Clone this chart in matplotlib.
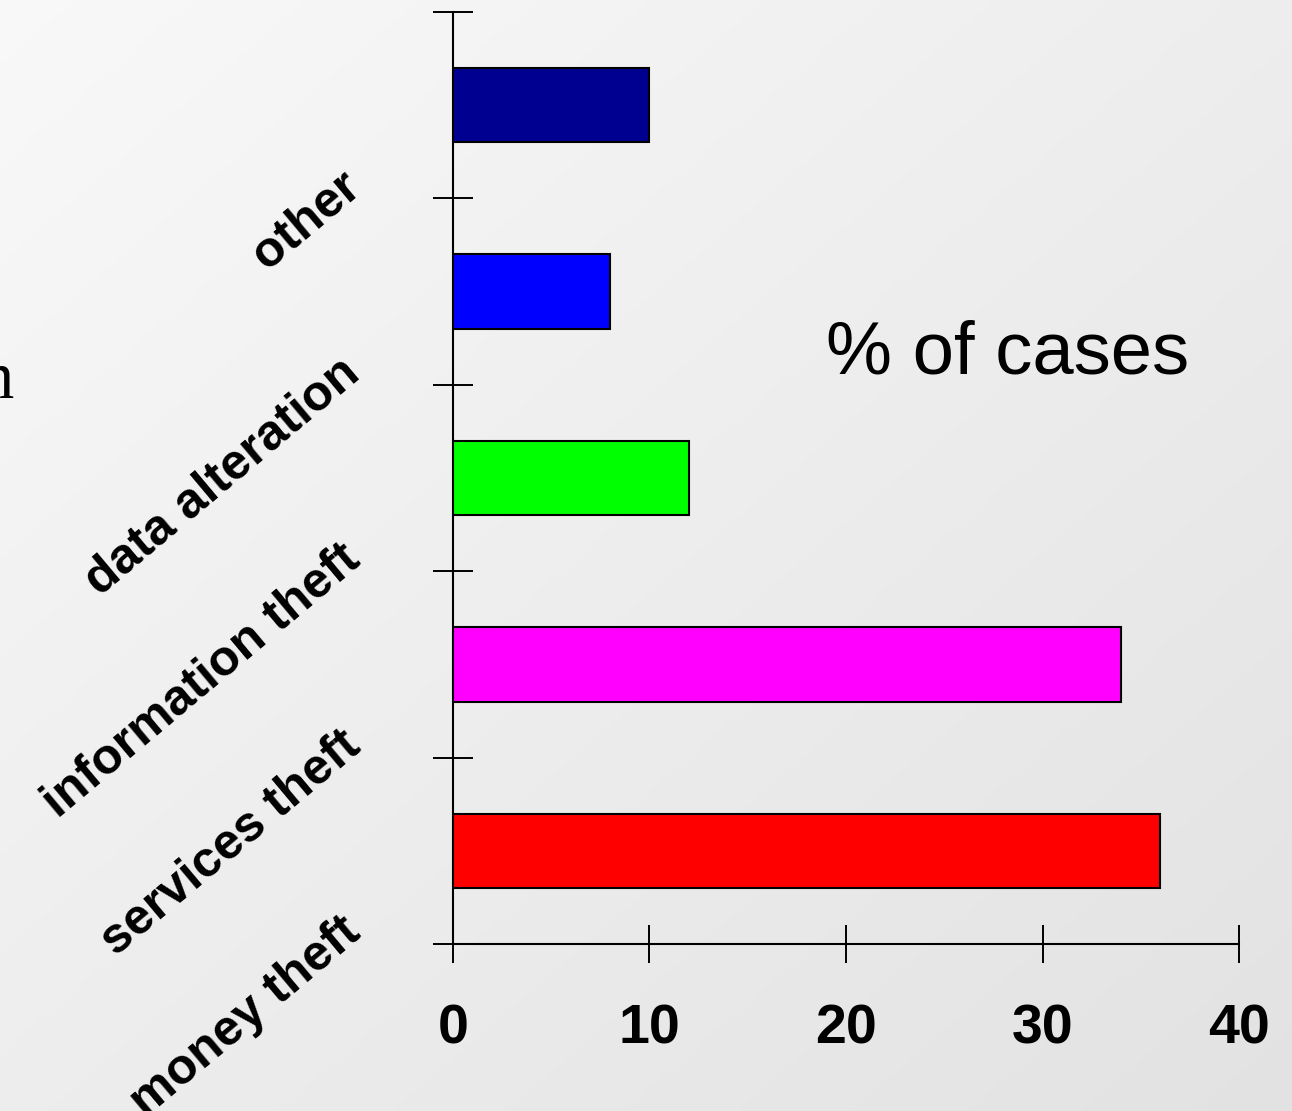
import numpy as np
import matplotlib
matplotlib.use("Agg")
import matplotlib.pyplot as plt
import matplotlib.transforms as mtransforms

# crime categories, bottom to top
categories = ["money theft", "services theft", "information theft", "data alteration", "other"]
percent = [36, 34, 12, 8, 10]
bar_colors = ["#ff0000", "#ff00ff", "#00ff00", "#0000ff", "#000090"]
x_ticks = [0, 10, 20, 30, 40]

plt.rcParams["font.family"] = ["Liberation Sans", "DejaVu Sans"]

fig = plt.figure(figsize=(12.92, 11.11), dpi=100)

# soft diagonal grey background, light at top-left, darker at bottom-right
bg = fig.add_axes([0, 0, 1, 1], zorder=-10)
gx, gy = np.meshgrid(np.linspace(0, 1, 400), np.linspace(0, 1, 400))
shade = 0.975 - 0.088 * (gx + gy) / 2.0
rgb = np.dstack([shade, shade, shade])
bg.imshow(rgb, extent=[0, 1, 0, 1], origin="upper", aspect="auto")
bg.axis("off")

ax = fig.add_axes([0.3506, 0.1503, 0.6084, 0.8389])
ax.patch.set_alpha(0)

pos = np.arange(len(categories)) + 0.5
ax.barh(pos, percent, height=0.4, color=bar_colors, edgecolor="black",
        linewidth=1.5, zorder=3)

ax.set_xlim(0, 40)
ax.set_ylim(0, 5)
ax.set_xticks(x_ticks)
ax.set_xticklabels([str(v) for v in x_ticks], fontsize=40, fontweight="bold")
ax.set_yticks(np.arange(0, 6))
ax.set_yticklabels([])

for side in ["top", "right"]:
    ax.spines[side].set_visible(False)
for side in ["left", "bottom"]:
    ax.spines[side].set_linewidth(1.5)

ax.tick_params(axis="x", direction="inout", length=27, width=1.4, pad=29)
ax.tick_params(axis="y", direction="inout", length=29, width=1.4)

# category names sit on the tick lines, slanted
lab_tr = mtransforms.blended_transform_factory(ax.transAxes, ax.transData)
for i, name in enumerate(categories):
    ax.text(-0.115, i + 0.04, name, transform=lab_tr, rotation=40,
            rotation_mode="anchor", ha="right", va="baseline",
            fontsize=36, fontweight="bold")

fig.text(0.639, 0.6634, "% of cases", fontsize=53.5, ha="left", va="baseline")
fig.text(14 / 1292, 1 - 398 / 1111, "n", fontsize=48,
         family="Liberation Serif", ha="right", va="baseline")

fig.savefig("out.png", dpi=100)
